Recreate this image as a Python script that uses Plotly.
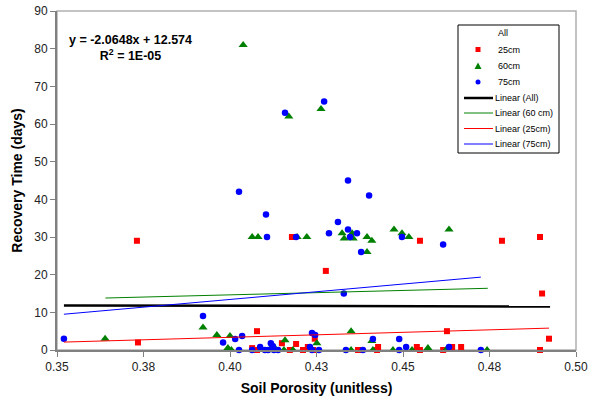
import plotly.graph_objects as go

# Soil porosity (x) and recovery time in days (y) for each sensor depth
por_25 = [0.3731, 0.3734, 0.4064, 0.4078, 0.4078, 0.4150, 0.4173, 0.4179, 0.4191, 0.4211,
          0.4225, 0.4245, 0.4240, 0.4277, 0.4370, 0.4379, 0.4425, 0.4428, 0.4540, 0.4549,
          0.4549, 0.4616, 0.4627, 0.4642, 0.4668, 0.4786, 0.4896, 0.4896, 0.4902, 0.4922]
rec_25 = [29, 2, 0.5, 5, 0, 1.8, 0, 30, 1.6, 0,
          0.8, 3, 0, 21, 0, 0, 0, 0.8, 0.8, 0,
          29, 0, 5, 0.8, 0.8, 29, 30, 0, 15, 3]

por_60 = [0.3639, 0.3922, 0.3962, 0.4000, 0.3994, 0.4004, 0.4038, 0.4064, 0.4081, 0.4124,
          0.4156, 0.4159, 0.4170, 0.4182, 0.4194, 0.4222, 0.4251, 0.4263, 0.4324, 0.4330,
          0.4350, 0.4350, 0.4353, 0.4356, 0.4396, 0.4396, 0.4410, 0.4410, 0.4413, 0.4471,
          0.4474, 0.4497, 0.4517, 0.4526, 0.4572, 0.4624, 0.4633, 0.4743]
rec_60 = [3, 6, 4, 3.7, 0.5, 0, 81, 30, 30, 1.2,
          0, 2.6, 62, 0, 30, 30, 1.8, 64, 31, 29.6,
          5, 0, 31, 29.6, 30, 26, 29, 2.4, 0, 0,
          32, 31, 30, 0, 0.5, 0, 32, 0]

por_75 = [0.3520, 0.3922, 0.3980, 0.4015, 0.4026, 0.4026, 0.4035, 0.4064, 0.4087, 0.4101,
          0.4104, 0.4107, 0.4110, 0.4118, 0.4124, 0.4127, 0.4139, 0.4159, 0.4191, 0.4231,
          0.4237, 0.4237, 0.4246, 0.4257, 0.4272, 0.4286, 0.4312, 0.4329, 0.4335, 0.4341,
          0.4341, 0.4347, 0.4367, 0.4379, 0.4384, 0.4402, 0.4413, 0.4489, 0.4489, 0.4497,
          0.4509, 0.4616, 0.4633, 0.4725]
rec_75 = [3, 9, 2, 2.9, 0, 42, 3.7, 0, 0.8, 0,
          36, 30, 0, 1.8, 1, 0, 0, 63, 30, 0.8,
          4.5, 0, 4, 0, 66, 31, 34, 15, 0, 45,
          32, 30, 31, 26, 0, 41, 2.9, 2.9, 0, 30,
          0.8, 28, 0.8, 0]

# Linear trendlines: slope, intercept, x start, x end
fit_all = [-2.0648, 12.574, 0.352, 0.4925]
fit_60 = [23.4, 5.28, 0.364, 0.4745]
fit_25 = [26.4, -7.19, 0.352, 0.4922]
fit_75 = [81.7, -19.26, 0.352, 0.4725]

x_ticks = [0.35, 0.375, 0.40, 0.425, 0.45, 0.475, 0.50]
x_tick_text = ["0.35", "0.38", "0.40", "0.43", "0.45", "0.48", "0.50"]
y_ticks = [0, 10, 20, 30, 40, 50, 60, 70, 80, 90]

FONT = "Liberation Sans, Arial, sans-serif"
W, H = 594, 402
M_L, M_R, M_T, M_B = 57, 18, 11, 52
PW, PH = W - M_L - M_R, H - M_T - M_B


def fit_line(fit):
    m, b, x0, x1 = fit
    return [x0, x1], [m * x0 + b, m * x1 + b]


def px(x):
    """Pixel column -> paper x."""
    return (x - M_L) / PW


def py(y):
    """Pixel row -> paper y."""
    return (H - M_B - y) / PH


fig = go.Figure()

fig.add_trace(go.Scatter(
    x=por_25, y=rec_25, name="25cm", mode="markers", cliponaxis=False,
    marker=dict(symbol="square", size=6, color="#ff0000")))
fig.add_trace(go.Scatter(
    x=por_60, y=rec_60, name="60cm", mode="markers", cliponaxis=False,
    marker=dict(symbol="triangle-up", size=8, color="#008000")))
fig.add_trace(go.Scatter(
    x=por_75, y=rec_75, name="75cm", mode="markers", cliponaxis=False,
    marker=dict(symbol="circle", size=6.5, color="#0000ff")))

trend_styles = [
    (fit_all, "Linear (All)", "#000000", 2.5),
    (fit_60, "Linear (60 cm)", "#008000", 1),
    (fit_25, "Linear (25cm)", "#ff0000", 1),
    (fit_75, "Linear (75cm)", "#0000ff", 1),
]
for fit, name, color, width in trend_styles:
    lx, ly = fit_line(fit)
    fig.add_trace(go.Scatter(x=lx, y=ly, name=name, mode="lines",
                             line=dict(color=color, width=width)))

# Equation of the overall fit
fig.add_annotation(
    x=px(130), y=py(48), xref="paper", yref="paper", xanchor="center", yanchor="middle",
    align="center", showarrow=False,
    text="<b>y = -2.0648x + 12.574<br>R<sup>2</sup> = 1E-05</b>",
    font=dict(family=FONT, size=12.5, color="#000000"))

# Plot area frame
fig.add_shape(type="rect", xref="paper", yref="paper", x0=0, y0=0, x1=1, y1=1,
              line=dict(color="#b0b0b0", width=1.5), layer="below")

# Legend box, compact like the spreadsheet original
fig.add_shape(type="rect", xref="paper", yref="paper",
              x0=px(458), x1=px(559), y0=py(153), y1=py(25),
              line=dict(color="#000000", width=1), fillcolor="white", layer="above")

legend_rows = [
    ("All", None, None, 33),
    ("25cm", "square", "#ff0000", 49.5),
    ("60cm", "triangle", "#008000", 66),
    ("75cm", "circle", "#0000ff", 82),
    ("Linear (All)", "line", ("#000000", 2.5), 98),
    ("Linear (60 cm)", "line", ("#008000", 1), 113),
    ("Linear (25cm)", "line", ("#ff0000", 1), 128.5),
    ("Linear (75cm)", "line", ("#0000ff", 1), 144),
]
for label, kind, style, row in legend_rows:
    yc = py(row)
    text_x = 496
    if kind == "line":
        color, width = style
        fig.add_shape(type="line", xref="paper", yref="paper",
                      x0=px(464), x1=px(493), y0=yc, y1=yc,
                      line=dict(color=color, width=width), layer="above")
        text_x = 493
    elif kind == "square":
        fig.add_shape(type="rect", xref="paper", yref="paper",
                      xsizemode="pixel", ysizemode="pixel",
                      xanchor=px(478), yanchor=yc, x0=-2.5, x1=2.5, y0=-2.5, y1=2.5,
                      line=dict(width=0), fillcolor=style, layer="above")
    elif kind == "circle":
        fig.add_shape(type="circle", xref="paper", yref="paper",
                      xsizemode="pixel", ysizemode="pixel",
                      xanchor=px(478), yanchor=yc, x0=-2.5, x1=2.5, y0=-2.5, y1=2.5,
                      line=dict(width=0), fillcolor=style, layer="above")
    elif kind == "triangle":
        fig.add_shape(type="path", xref="paper", yref="paper",
                      xsizemode="pixel", ysizemode="pixel",
                      xanchor=px(478), yanchor=yc,
                      path="M -3.5 -3 L 3.5 -3 L 0 3.5 Z",
                      line=dict(width=0), fillcolor=style, layer="above")
    fig.add_annotation(x=px(text_x), y=yc, xref="paper", yref="paper",
                       xanchor="left", yanchor="middle", showarrow=False,
                       text=label, font=dict(family=FONT, size=9, color="#000000"))

fig.update_layout(
    width=W, height=H,
    margin=dict(l=M_L, r=M_R, t=M_T, b=M_B, autoexpand=False),
    paper_bgcolor="white", plot_bgcolor="white",
    font=dict(family=FONT, size=11, color="#000000"),
    showlegend=False,
    xaxis=dict(range=[0.35, 0.50], tickvals=x_ticks, ticktext=x_tick_text,
               automargin=False,
               showgrid=False, zeroline=False, showline=True,
               linecolor="#808080", linewidth=2, ticks="outside",
               ticklen=5, tickcolor="#808080", tickwidth=1,
               tickfont=dict(family=FONT, size=12, color="#222222"),
               title=dict(text="<b>Soil Porosity (unitless)</b>",
                          font=dict(family=FONT, size=14, color="#000000"),
                          standoff=10)),
    yaxis=dict(range=[0, 90], tickvals=y_ticks,
               automargin=False,
               showgrid=False, zeroline=False, showline=True,
               linecolor="#808080", linewidth=2, ticks="outside",
               ticklen=5, tickcolor="#808080", tickwidth=1,
               tickfont=dict(family=FONT, size=12, color="#222222"),
               title=dict(text="<b>Recovery Time (days)</b>",
                          font=dict(family=FONT, size=14, color="#000000"),
                          standoff=8)),
)

fig.write_html("out.html")
